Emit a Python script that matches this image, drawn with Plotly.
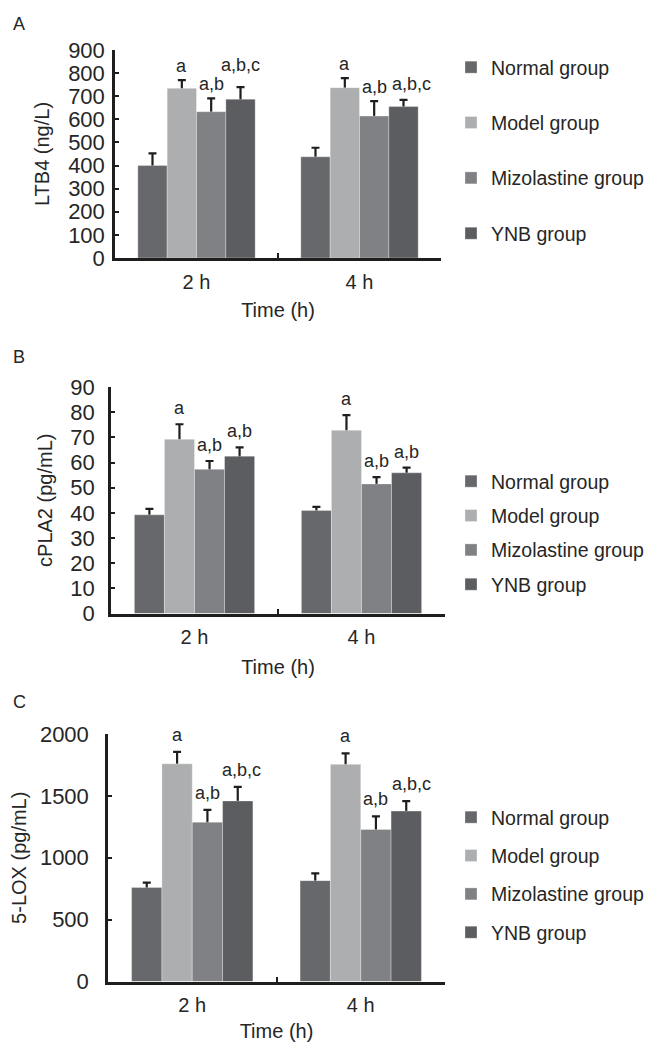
import plotly.graph_objects as go

# ---------------- data ----------------
categories = ["2 h", "4 h"]
groups = ["Normal group", "Model group", "Mizolastine group", "YNB group"]

# Panel A: LTB4 (ng/L) ; rows follow `groups`, columns follow `categories`
ltb4_means = [[400, 438], [734, 737], [633, 614], [687, 655]]
ltb4_errors = [[53, 39], [36, 41], [58, 65], [52, 29]]
ltb4_labels = [["", ""], ["a", "a"], ["a,b", "a,b"], ["a,b,c", "a,b,c"]]

# Panel B: cPLA2 (pg/mL)
cpla2_means = [[39.2, 40.9], [69.2, 72.8], [57.3, 51.5], [62.5, 55.9]]
cpla2_errors = [[2.4, 1.5], [6.0, 6.0], [3.3, 2.7], [3.5, 2.1]]
cpla2_labels = [["", ""], ["a", "a"], ["a,b", "a,b"], ["a,b", "a,b"]]

# Panel C: 5-LOX (pg/mL)
lox_means = [[759, 815], [1759, 1755], [1287, 1228], [1459, 1377]]
lox_errors = [[40, 58], [96, 88], [100, 106], [113, 80]]
lox_labels = [["", ""], ["a", "a"], ["a,b", "a,b"], ["a,b,c", "a,b,c"]]

panel_letters = ["A", "B", "C"]
y_titles = ["LTB4 (ng/L)", "cPLA2 (pg/mL)", "5-LOX (pg/mL)"]
y_ranges = [[0, 900], [0, 90], [0, 2000]]
y_dticks = [100, 10, 500]
x_title = "Time (h)"

# ---------------- style ----------------
PAGE_W, PAGE_H = 656, 1042
OFF = 8  # default page body margin around the plot div
W, H = PAGE_W - OFF, PAGE_H - OFF
colors = ["#67686b", "#adaeb0", "#808184", "#5c5d60"]
FONT = "Liberation Sans, Arial, sans-serif"
TXT = "#262626"
AX = "#1e1e1e"
BARGAP = 0.28
LEGEND_FONT = 19.5


def px_x(v):
    return (v - OFF) / W


def px_y(v):
    return 1 - (v - OFF) / H


# plot-area boxes in page pixels (left, right, top, bottom)
boxes = [(115, 441, 50, 258), (111, 445, 387, 613.5), (108, 445, 734, 981.5)]
legend_tops = [48, 462, 798]
legend_gaps = [27, 6, 10]
legend_left = 451
letter_pos = [(19, 24), (19, 357), (19, 702)]
ytick_standoff = [3, 9, 12]
ytitle_standoff = [14, 13, 14]
xtitle_standoff = [12, 13, 11]
label_yshift = [2, 4, 5]
# (panel, group, category) -> (dx, dy) pixel nudges of the significance letters
label_nudge = {(0, 3, 0): (0, 8), (0, 3, 1): (8, 2), (2, 3, 0): (4, 0), (2, 3, 1): (5, 0)}

panels = [
    (ltb4_means, ltb4_errors, ltb4_labels),
    (cpla2_means, cpla2_errors, cpla2_labels),
    (lox_means, lox_errors, lox_labels),
]

fig = go.Figure()
annotations = []
layout = {}

for p, (means, errors, labels) in enumerate(panels):
    suffix = "" if p == 0 else str(p + 1)
    xa, ya = "x" + suffix, "y" + suffix
    legend_name = "legend" + suffix
    # error-bar carriers first (drawn below the visible bars)
    for j, g in enumerate(groups):
        fig.add_trace(go.Bar(
            x=categories, y=means[j], xaxis=xa, yaxis=ya,
            offsetgroup=str(j), showlegend=False, hoverinfo="skip",
            marker=dict(color="rgba(0,0,0,0)", line=dict(width=0)),
            error_y=dict(type="data", array=errors[j], symmetric=True,
                         color=AX, thickness=2.2, width=4),
        ))
    for j, g in enumerate(groups):
        fig.add_trace(go.Bar(
            x=categories, y=means[j], xaxis=xa, yaxis=ya, name=g,
            offsetgroup=str(j), legend=legend_name,
            legendgroup=f"p{p}-{j}",
            marker=dict(color=colors[j], line=dict(color="rgba(255,255,255,0.3)", width=1)),
        ))
        for i, c in enumerate(categories):
            if labels[j][i]:
                dx, dy = label_nudge.get((p, j, i), (0, 0))
                annotations.append(dict(
                    x=i + (j - 1.5) * (1 - BARGAP) / 4,
                    y=means[j][i] + errors[j][i],
                    xref=xa, yref=ya, text=labels[j][i], showarrow=False,
                    yanchor="bottom", xanchor="center",
                    xshift=dx, yshift=label_yshift[p] + dy,
                    font=dict(family=FONT, size=18, color=TXT),
                ))

    l, r, t, b = boxes[p]
    layout["xaxis" + suffix] = dict(
        domain=[px_x(l), px_x(r)], anchor=ya, type="category",
        showline=True, linecolor=AX, linewidth=2.5,
        ticks="inside", tickson="boundaries", ticklen=5, tickwidth=2, tickcolor=AX,
        showgrid=False, zeroline=False, automargin=False,
        tickfont=dict(family=FONT, size=20, color=TXT), ticklabelstandoff=4,
        title=dict(text=x_title, font=dict(family=FONT, size=20, color=TXT),
                   standoff=xtitle_standoff[p]),
    )
    layout["yaxis" + suffix] = dict(
        domain=[px_y(b), px_y(t)], anchor=xa, range=y_ranges[p], dtick=y_dticks[p],
        showline=True, linecolor=AX, linewidth=2.5,
        ticks="inside", ticklen=4, tickwidth=2, tickcolor=AX,
        showgrid=False, zeroline=False, automargin=False,
        tickfont=dict(family=FONT, size=22, color=TXT), ticklabelstandoff=ytick_standoff[p],
        title=dict(text=y_titles[p], font=dict(family=FONT, size=20, color=TXT),
                   standoff=ytitle_standoff[p]),
    )
    layout[legend_name] = dict(
        x=px_x(legend_left), y=px_y(legend_tops[p]), xanchor="left", yanchor="top",
        font=dict(family=FONT, size=LEGEND_FONT, color=TXT), bgcolor="rgba(0,0,0,0)",
        tracegroupgap=legend_gaps[p], traceorder="grouped", itemwidth=30,
    )
    lx, ly = letter_pos[p]
    annotations.append(dict(
        x=px_x(lx), y=px_y(ly), xref="paper", yref="paper", text=panel_letters[p],
        showarrow=False, xanchor="center", yanchor="middle",
        font=dict(family=FONT, size=18, color=TXT),
    ))

fig.update_layout(
    width=W, height=H, margin=dict(l=0, r=0, t=0, b=0, autoexpand=False),
    paper_bgcolor="white", plot_bgcolor="white",
    barmode="group", bargap=BARGAP, bargroupgap=0,
    annotations=annotations, **layout,
)

fig.write_html("out.html")
